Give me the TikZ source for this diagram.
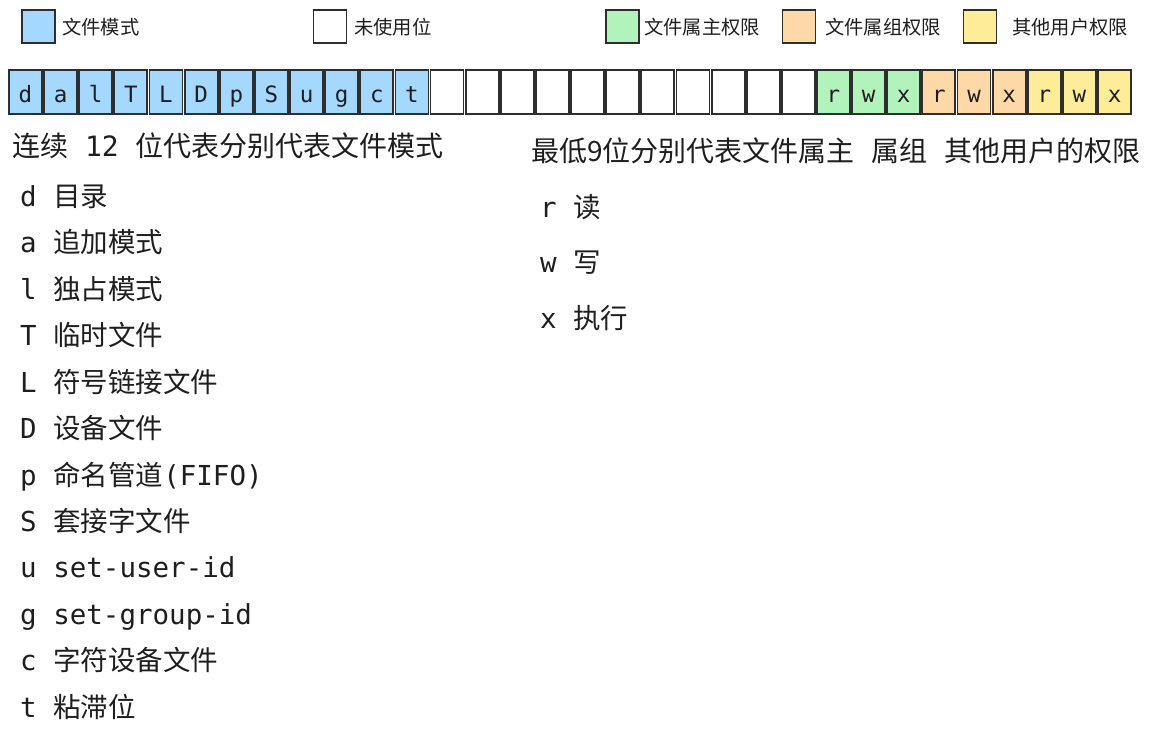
\documentclass[tikz,border=0pt]{standalone}
\usepackage{fontspec}
\setmainfont{Noto Sans CJK SC}
\newfontfamily\monofont{DejaVu Sans Mono}
\definecolor{ink}{HTML}{1E1E1E}
\definecolor{boxline}{HTML}{2E2E2E}
\definecolor{modeblue}{HTML}{A5D8FF}
\definecolor{ownergreen}{HTML}{B2F2BB}
\definecolor{grouporange}{HTML}{FFD8A8}
\definecolor{otheryellow}{HTML}{FFEC99}
\tikzset{
  bitbox/.style={draw=boxline, line width=1.8pt, minimum width=33pt, minimum height=44pt,
    inner sep=0pt, text height=21pt, text depth=1pt,
    font=\monofont\fontsize{22.5}{22.5}\selectfont},
  legbox/.style={draw=boxline, line width=1.8pt, minimum width=33pt, minimum height=33pt, inner sep=0pt},
  legtext/.style={anchor=west, inner sep=0pt, font=\fontsize{19.3}{21}\selectfont},
  listtext/.style={anchor=base west, inner sep=0pt, font=\fontsize{27.5}{30}\selectfont},
  headtext/.style={anchor=base west, inner sep=0pt, font=\fontsize{28}{30}\selectfont},
}
\begin{document}
\begin{tikzpicture}[x=1pt,y=-1pt, every node/.style={text=ink}]
\useasboundingbox (0,0) rectangle (1150,734);
% legend
\node[legbox, fill=modeblue]    (lgmode)  at (38.5,26.5) {};
\node[legtext] (tmode) at (62,27) {文件模式};
\node[legbox, fill=white]       (lgunused) at (330,26.5) {};
\node[legtext] (tunused) at (354,27) {未使用位};
\node[legbox, fill=ownergreen]  (lgowner) at (622.5,26.5) {};
\node[legtext] (towner) at (644,27) {文件属主权限};
\node[legbox, fill=grouporange] (lggroup) at (799,26.5) {};
\node[legtext] (tgroup) at (825,27) {文件属组权限};
\node[legbox, fill=otheryellow] (lgother) at (980,26.5) {};
\node[legtext] (tother) at (1012,27) {其他用户权限};
% bits
\foreach \l [count=\i from 0] in {d,a,l,T,L,D,p,S,u,g,c,t}
  \node[bitbox, fill=modeblue] (bit\i) at ({25.5+35.13*\i},92) {\l};
\foreach \i in {12,...,22}
  \node[bitbox, fill=white] (bit\i) at ({25.5+35.13*\i},92) {};
\foreach \l/\col [count=\i from 23] in {r/ownergreen,w/ownergreen,x/ownergreen,r/grouporange,w/grouporange,x/grouporange,r/otheryellow,w/otheryellow,x/otheryellow}
  \node[bitbox, fill=\col] (bit\i) at ({25.5+35.13*\i},92) {\l};
% headings
\node[headtext] (hleft) at (12,156.3) {连续{\monofont\ 12\ }位代表分别代表文件模式};
\node[headtext] (hright) at (531,161.3) {最低9位分别代表文件属主{\monofont\ }属组{\monofont\ }其他用户的权限};
% left list
\foreach \t [count=\k from 0] in {{\monofont d\ }目录,{\monofont a\ }追加模式,{\monofont l\ }独占模式,{\monofont T\ }临时文件,{\monofont L\ }符号链接文件,{\monofont D\ }设备文件,{\monofont p\ }命名管道{\monofont (FIFO)},{\monofont S\ }套接字文件,{\monofont u\ set-user-id},{\monofont g\ set-group-id},{\monofont c\ }字符设备文件,{\monofont t\ }粘滞位}
  \node[listtext] (item\k) at (20,{206.3+46.45*\k}) {\t};
% right list
\node[listtext] (pr) at (540,217.3) {{\monofont r\ }读};
\node[listtext] (pw) at (540,272.3) {{\monofont w\ }写};
\node[listtext] (px) at (540,328.3) {{\monofont x\ }执行};
\end{tikzpicture}
\end{document}
